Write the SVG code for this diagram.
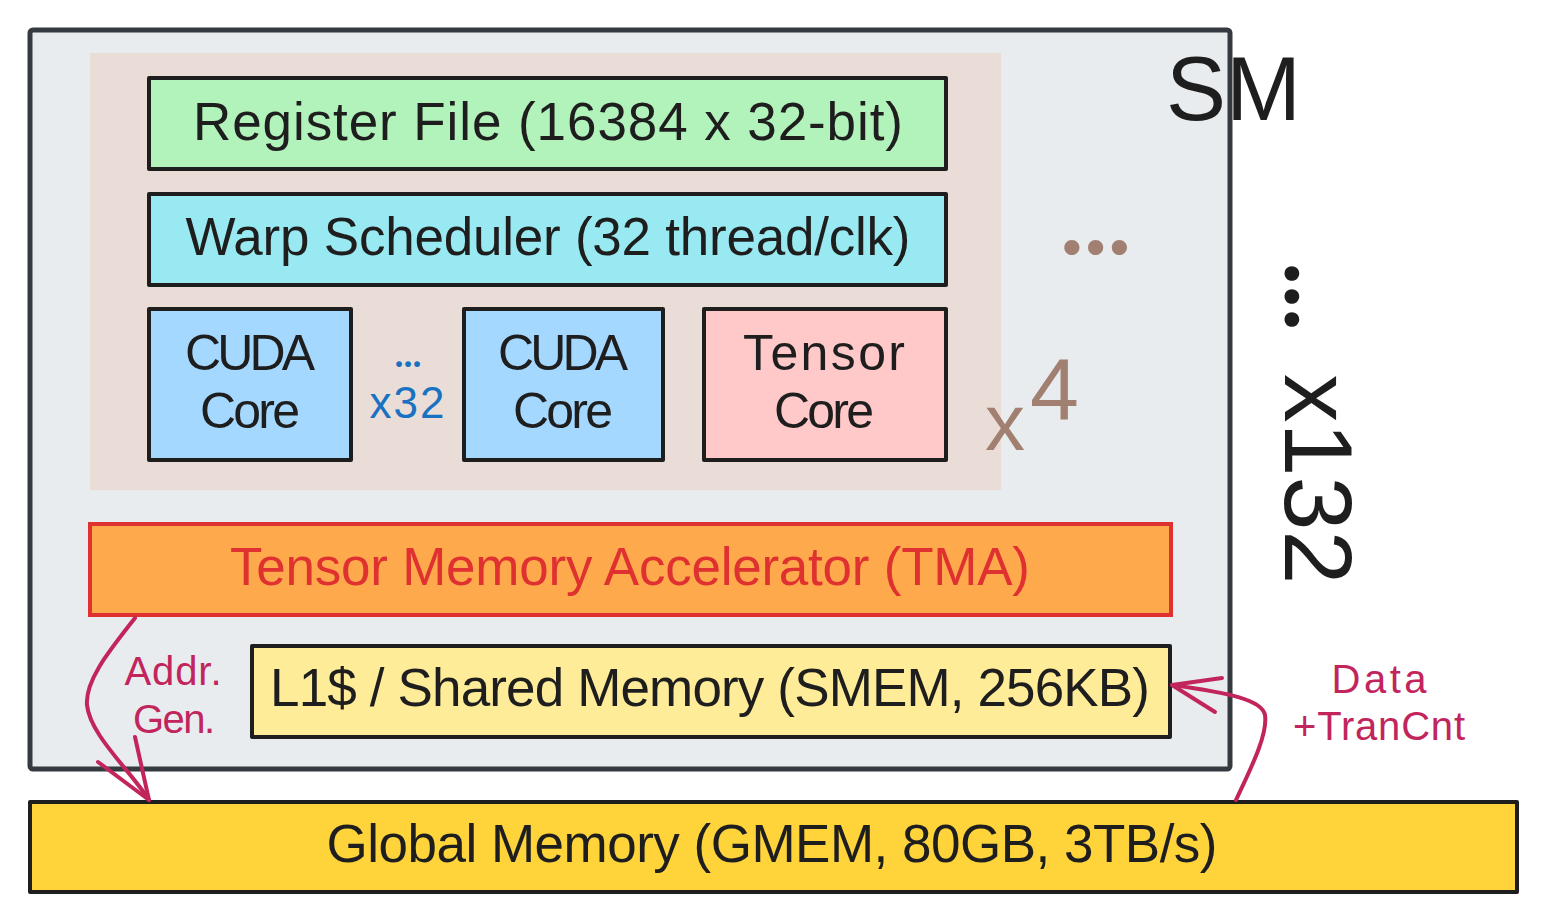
<svg xmlns="http://www.w3.org/2000/svg" width="1546" height="922" viewBox="0 0 1546 922">
<style>
text{font-family:"Liberation Sans",Arial,sans-serif;fill:#1e1e1e}
.dots{font-family:Lato,"Noto Sans",sans-serif;font-weight:bold}
.box{stroke:#1e1e1e;stroke-width:4;stroke-linejoin:round}
.lbl{font-size:53px;text-anchor:middle}
.core{font-size:50px;text-anchor:middle}
.pink{fill:#c2255c;font-size:40px;text-anchor:middle}
.conn{fill:none;stroke:#c2255c;stroke-width:4;stroke-linecap:round;stroke-linejoin:round}
</style>
<rect width="1546" height="922" fill="#ffffff"/>
<g id="sm">
<rect x="30" y="30" width="1200" height="739" rx="3" fill="#e9ecef" stroke="#343a40" stroke-width="5"/>
<rect x="90" y="53" width="911" height="437" fill="#eaddd8"/>
<text x="1166" y="120" font-size="90">SM</text>
<text class="dots" x="1060" y="254" font-size="100" style="fill:#a18072">...</text>
<text x="985" y="450" font-size="80" style="fill:#a18072">x<tspan x="1030" y="420" font-size="88">4</tspan></text>
<text transform="translate(1285,262) rotate(90)" font-size="97"><tspan class="dots" font-size="97">...</tspan><tspan x="112">x132</tspan></text>
</g>
<g id="register-file">
<rect class="box" x="149" y="78" width="797" height="91" fill="#b2f2bb"/>
<text class="lbl" x="548" y="140" textLength="710">Register File (16384 x 32-bit)</text>
</g>
<g id="warp-scheduler">
<rect class="box" x="149" y="194" width="797" height="91" fill="#99e9f2"/>
<text class="lbl" x="548" y="255" textLength="725">Warp Scheduler (32 thread/clk)</text>
</g>
<g id="cuda-core-1">
<rect class="box" x="149" y="309" width="202" height="151" fill="#a5d8ff"/>
<text class="core" x="250" y="370" textLength="130">CUDA</text>
<text class="core" x="250" y="428" textLength="100">Core</text>
</g>
<g id="cuda-x32">
<text class="dots" x="408" y="367" font-size="38" text-anchor="middle" style="fill:#1971c2">...</text>
<text x="407" y="418" font-size="44" text-anchor="middle" textLength="75" style="fill:#1971c2">x32</text>
</g>
<g id="cuda-core-2">
<rect class="box" x="464" y="309" width="199" height="151" fill="#a5d8ff"/>
<text class="core" x="563" y="370" textLength="130">CUDA</text>
<text class="core" x="563" y="428" textLength="100">Core</text>
</g>
<g id="tensor-core">
<rect class="box" x="704" y="309" width="242" height="151" fill="#ffc9c9"/>
<text class="core" x="824" y="370" textLength="162">Tensor</text>
<text class="core" x="824" y="428" textLength="100">Core</text>
</g>
<g id="tma">
<rect x="90" y="524" width="1081" height="91" fill="#ffa94d" stroke="#e03131" stroke-width="4"/>
<text class="lbl" x="630" y="585" textLength="800" style="fill:#e03131">Tensor Memory Accelerator (TMA)</text>
</g>
<g id="smem">
<rect class="box" x="252" y="646" width="918" height="91" fill="#ffec99"/>
<text class="lbl" x="710" y="706" textLength="880">L1$ / Shared Memory (SMEM, 256KB)</text>
</g>
<g id="gmem">
<rect class="box" x="30" y="802" width="1487" height="90" fill="#ffd43b"/>
<text class="lbl" x="772" y="862" textLength="891">Global Memory (GMEM, 80GB, 3TB/s)</text>
</g>
<g id="connectors">
<path class="conn" d="M135,618 C110,650 85,680 87,705 C90,735 130,770 149,800"/>
<path class="conn" d="M98,762 L149,800 L135,737"/>
<text class="pink" x="173" y="685" textLength="97">Addr.</text>
<text class="pink" x="174" y="733" textLength="82">Gen.</text>
<path class="conn" d="M1236,800 C1250,770 1268,735 1265,715 C1262,700 1230,693 1172,685"/>
<path class="conn" d="M1222,678 L1172,685 L1215,712"/>
<text class="pink" x="1379" y="693" textLength="95">Data</text>
<text class="pink" x="1379" y="740" textLength="172">+TranCnt</text>
</g>
</svg>
